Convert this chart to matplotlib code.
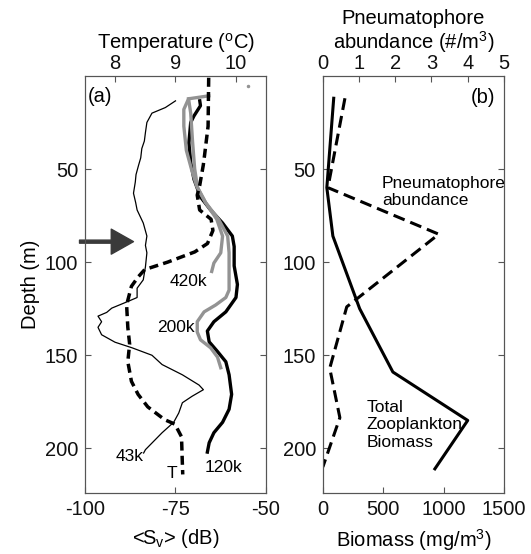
import matplotlib
matplotlib.use("Agg")
import matplotlib.pyplot as plt

plt.rcParams['font.family'] = ['Liberation Sans', 'DejaVu Sans']
plt.rcParams['mathtext.default'] = 'regular'
plt.rcParams['axes.unicode_minus'] = False

# ---------------- Panel (a) data ----------------
T_depth = [1, 27, 43, 48, 59, 64, 72, 77, 83, 90, 94.5, 100, 104, 108, 113, 123, 135,
           144, 153.5, 164, 171, 177.7, 184.6, 187, 193.8, 204.5, 214]
T_temp = [9.55, 9.54, 9.48, 9.46, 9.40, 9.36, 9.40, 9.59, 9.62, 9.53, 9.32, 8.87, 8.49,
          8.38, 8.27, 8.19, 8.21, 8.24, 8.21, 8.27, 8.38, 8.54, 8.82, 8.99, 9.10, 9.11, 9.12]

S43_depth = [13.4, 17, 20, 25, 30.4, 35, 39, 44, 48, 53, 57, 63, 68, 72, 79, 86, 91, 95,
             102.5, 109.5, 114, 119, 121, 124.7, 127, 129, 132, 135, 139, 143, 146, 150,
             155, 160.5, 166, 168.5, 172, 175.5, 181, 186, 191.6, 200.7, 202.5]
S43 = [-75.0, -77.8, -81.5, -82.9, -83.3, -83.6, -84.3, -84.6, -85.2, -85.9, -86.1, -86.6,
       -86.0, -85.6, -83.9, -82.9, -83.3, -82.9, -83.3, -83.9, -85.6, -85.6, -88.0,
       -92.6, -94.0, -96.4, -95.4, -96.4, -95.4, -91.7, -87.0, -81.5, -78.7, -73.1,
       -68.5, -67.3, -70.4, -73.1, -74.1, -75.5, -78.7, -83.3, -83.8]

S120_depth = [13.4, 16, 21.5, 25, 36, 46.5, 55.5, 65, 72, 79, 86, 91.6, 102, 112, 119,
              126.7, 132, 137, 142.8, 148, 153.5, 160.5, 171, 179, 186, 191.6, 197, 202]
S120 = [-68.3, -68.1, -69.9, -70.8, -71.3, -70.8, -69.9, -68.1, -65.3, -62.0, -59.3,
        -58.8, -58.8, -57.9, -58.3, -61.1, -64.4, -66.2, -65.7, -63.4, -61.1, -60.2,
        -59.5, -60.2, -62.0, -64.4, -65.7, -66.2]

S200_depth = [10.7, 12.3, 18, 27, 40, 50, 59, 68, 77, 86, 95, 105, 115, 119, 123, 126.7,
              132, 137.5, 141.7, 146, 151, 156.7]
S200 = [-65.8, -71.4, -72.7, -72.7, -72.0, -70.6, -69.2, -66.7, -63.1, -60.6, -60.2,
        -60.2, -60.2, -61.1, -63.9, -67.1, -69.0, -69.0, -68.1, -65.3, -63.4, -62.5]

S420_depth = [12.3, 20, 35, 50, 60, 68, 77, 86, 95, 100.5, 105]
S420 = [-71.4, -70.8, -70.3, -69.7, -68.9, -66.7, -63.6, -62.0, -62.5, -64.4, -65.0]

# ---------------- Panel (b) data ----------------
b_depth = [12, 60, 86, 125, 159, 185, 211]
biomass = [90, 33, 83, 305, 580, 1200, 928]
pneu_depth = [12, 60, 85, 124, 157, 183.5, 210]
pneumatophore = [0.61, 0.14, 3.2, 0.66, 0.19, 0.47, 0.0]

FS = 14.5
spine_c = '#555555'
gray = '#939393'

fig = plt.figure(figsize=(5.31, 5.54), dpi=100)
axA = fig.add_axes([0.160, 0.110, 0.341, 0.753])
axB = fig.add_axes([0.608, 0.110, 0.341, 0.753])

for ax in (axA, axB):
    ax.set_ylim(224, 0)
    ax.set_yticks([50, 100, 150, 200])
    ax.tick_params(direction='in', length=4, right=True, top=False, labelsize=FS,
                   colors=spine_c, labelcolor='#111111', pad=5)
    for s in ax.spines.values():
        s.set_color(spine_c)

# Panel (a)
axA.set_xlim(-100, -50)
axA.set_xticks([-100, -75, -50])
axA.set_xlabel('<S$_v$> (dB)', fontsize=FS, labelpad=6)
axA.set_ylabel('Depth (m)', fontsize=FS, labelpad=3)

axA.plot(S43, S43_depth, color='black', lw=0.9)
axA.plot(S120, S120_depth, color='black', lw=2.4)
axA.plot(S200, S200_depth, color=gray, lw=2.4)
axA.plot(S420, S420_depth, color=gray, lw=2.4)
axA.plot([-55.1], [5.4], marker='o', ms=1.5, color=gray)

axAt = axA.twiny()
axAt.set_xlim(7.5, 10.5)
axAt.set_xticks([8, 9, 10])
axAt.tick_params(direction='in', length=4, labelsize=FS, colors=spine_c,
                 labelcolor='#111111', pad=2)
for s in axAt.spines.values():
    s.set_color(spine_c)
axAt.set_xlabel('Temperature ($^{o}$C)', fontsize=FS, labelpad=4)
axAt.plot(T_temp, T_depth, color='black', lw=2.5, dashes=[2.6, 1.5])

axA.text(-99.2, 11.3, '(a)', fontsize=FS, ha='left', va='center')
axA.text(-71.4, 110.6, '420k', fontsize=12.5, ha='center', va='center')
axA.text(-75.0, 135.3, '200k', fontsize=12.5, ha='center', va='center')
axA.text(-87.6, 204.5, '43k', fontsize=12.5, ha='center', va='center')
axA.text(-76.0, 213.5, 'T', fontsize=12.5, ha='center', va='center')
axA.text(-61.8, 210.5, '120k', fontsize=12.5, ha='center', va='center')

axA.annotate('', xy=(-86.6, 89), xytext=(-101.5, 89),
             arrowprops=dict(facecolor='#3a3a3a', edgecolor='#3a3a3a', width=2.2,
                             headwidth=18, headlength=16, shrink=0),
             annotation_clip=False)

# Panel (b)
axB.set_xlim(0, 1500)
axB.set_xticks([0, 500, 1000, 1500])
axB.set_xlabel('Biomass (mg/m$^3$)', fontsize=FS, labelpad=6)
axB.plot(biomass, b_depth, color='black', lw=2.2)

axBt = axB.twiny()
axBt.set_xlim(0, 5)
axBt.set_xticks([0, 1, 2, 3, 4, 5])
axBt.tick_params(direction='in', length=4, labelsize=FS, colors=spine_c,
                 labelcolor='#111111', pad=2)
for s in axBt.spines.values():
    s.set_color(spine_c)
axBt.set_xlabel('Pneumatophore\nabundance (#/m$^3$)', fontsize=FS, labelpad=4,
                linespacing=1.05)
axBt.plot(pneumatophore, pneu_depth, color='black', lw=2.2, dashes=[3.9, 2.0])

axB.text(1430, 11.8, '(b)', fontsize=FS, ha='right', va='center')
axB.text(489, 62.3, 'Pneumatophore\nabundance', fontsize=12.5, ha='left',
         va='center', linespacing=1.2)
axB.text(365, 187.3, 'Total\nZooplankton\nBiomass', fontsize=12.5, ha='left',
         va='center', linespacing=1.2)

fig.savefig('out.png', dpi=100)
